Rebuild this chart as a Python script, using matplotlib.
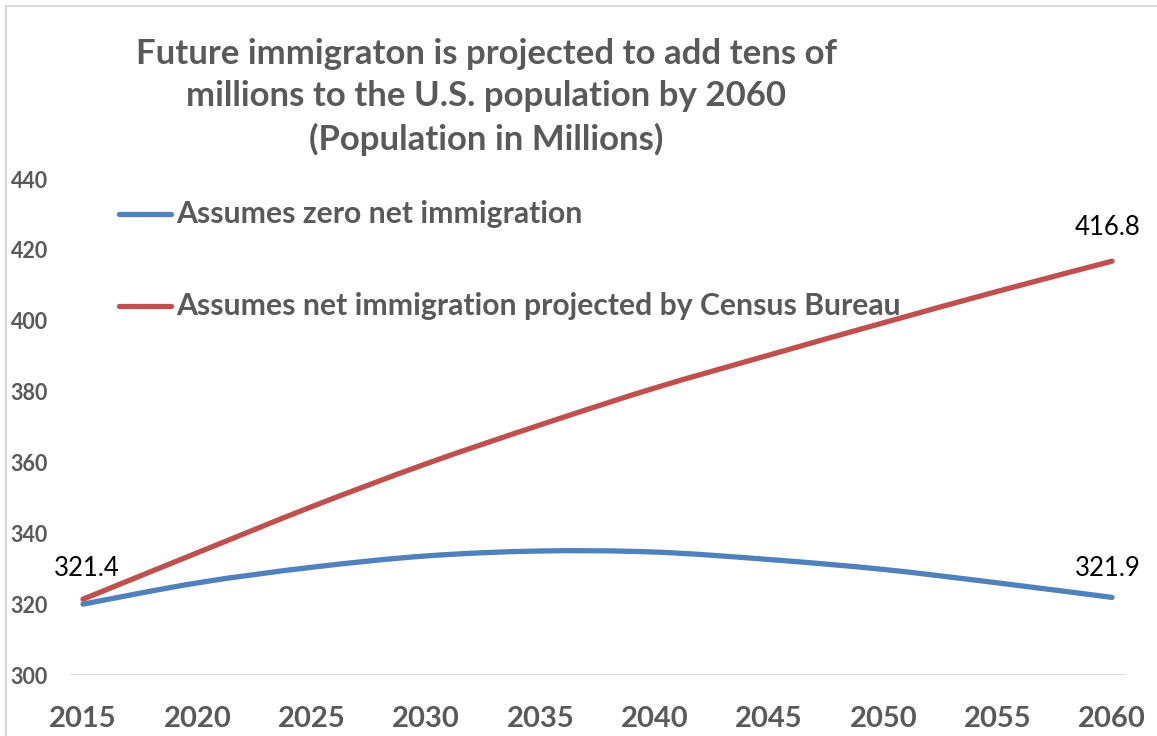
import matplotlib
matplotlib.use("Agg")
import matplotlib.pyplot as plt
from matplotlib.path import Path
from matplotlib.patches import PathPatch, Rectangle
from matplotlib.lines import Line2D
import numpy as np

years = [2015, 2020, 2025, 2030, 2035, 2040, 2045, 2050, 2055, 2060]
zero_net = [320.0, 326.0, 330.4, 333.6, 335.0, 334.7, 332.6, 329.8, 326.0, 321.9]
census = [321.4, 334.5, 347.5, 359.6, 370.6, 381.0, 390.3, 399.4, 408.3, 416.8]
series_names = ["Assumes zero net immigration",
                "Assumes net immigration projected by Census Bureau"]
yticks = [300, 320, 340, 360, 380, 400, 420, 440]
title = ("Future immigraton is projected to add tens of\n"
         "millions to the U.S. population by 2060\n"
         "(Population in Millions)")

BLUE = "#4F81BD"
RED = "#C0504D"
GRAY = "#595959"
FONT = "Lato"

W, H = 1157, 736
fig = plt.figure(figsize=(W / 100, H / 100), dpi=100)
fig.patch.set_facecolor("white")

def fx(px):
    return px / W

def fy(py):
    return 1 - py / H

ax = fig.add_axes([fx(70), fy(675), fx(1126) - fx(70), fy(179) - fy(675)])
ax.set_xlim(2015 - 13 / 22.87, 2060 + 14 / 22.87)
ax.set_ylim(300, 440)
for s in ax.spines.values():
    s.set_visible(False)
ax.axhline(300, color="#D9D9D9", lw=1.3, zorder=1)
ax.set_yticks(yticks)
ax.set_yticklabels([str(v) for v in yticks], fontfamily=FONT, fontweight="bold",
                   fontsize=15.5, color=GRAY)
ax.set_xticks(years)
ax.set_xticklabels([str(v) for v in years], fontfamily=FONT, fontweight="bold",
                   fontsize=21, color=GRAY)
ax.tick_params(axis="y", length=0, pad=16)
ax.tick_params(axis="x", length=0, pad=22)


def smooth_path(xs, ys):
    pts = np.column_stack([xs, ys]).astype(float)
    n = len(pts)
    verts = [pts[0]]
    codes = [Path.MOVETO]
    for i in range(n - 1):
        p0 = pts[i - 1] if i > 0 else pts[i]
        p1 = pts[i]
        p2 = pts[i + 1]
        p3 = pts[i + 2] if i + 2 < n else pts[i + 1]
        c1 = p1 + (p2 - p0) / 6.0
        c2 = p2 - (p3 - p1) / 6.0
        verts += [c1, c2, p2]
        codes += [Path.CURVE4] * 3
    return Path(verts, codes)

for vals, col in [(zero_net, BLUE), (census, RED)]:
    patch = PathPatch(smooth_path(years, vals), facecolor="none", edgecolor=col,
                      lw=3.8, capstyle="round", joinstyle="round", zorder=3)
    ax.add_patch(patch)

# data labels
lab_kw = dict(fontfamily=FONT, fontsize=18.5, color="black", ha="center", va="center")
ax.annotate(f"{census[0]:.1f}", (years[0], census[0]), xytext=(3, 22),
            textcoords="offset points", **lab_kw)
ax.annotate(f"{census[-1]:.1f}", (years[-1], census[-1]), xytext=(-3, 24),
            textcoords="offset points", **lab_kw)
ax.annotate(f"{zero_net[-1]:.1f}", (years[-1], zero_net[-1]), xytext=(-3, 21),
            textcoords="offset points", **lab_kw)

# legend (manual, in figure pixels)
for name, col, py in [(series_names[0], BLUE, 214), (series_names[1], RED, 306)]:
    fig.add_artist(Line2D([fx(119), fx(171)], [fy(py), fy(py)], color=col, lw=3.8,
                          solid_capstyle="round"))
    fig.text(fx(176), fy(py), name, fontfamily=FONT, fontweight="bold", fontsize=21.7,
             color=GRAY, ha="left", va="center")

fig.text(fx(486), fy(97), title, fontfamily=FONT, fontweight="bold", fontsize=25,
         color=GRAY, ha="center", va="center", linespacing=1.4)

# chart area border
fig.add_artist(Rectangle((fx(6), fy(H + 20)), 2, fy(6) - fy(H + 20), fill=False,
                         edgecolor="#D9D9D9", lw=1.5, transform=fig.transFigure))

fig.savefig("out.png", dpi=100, facecolor="white")
